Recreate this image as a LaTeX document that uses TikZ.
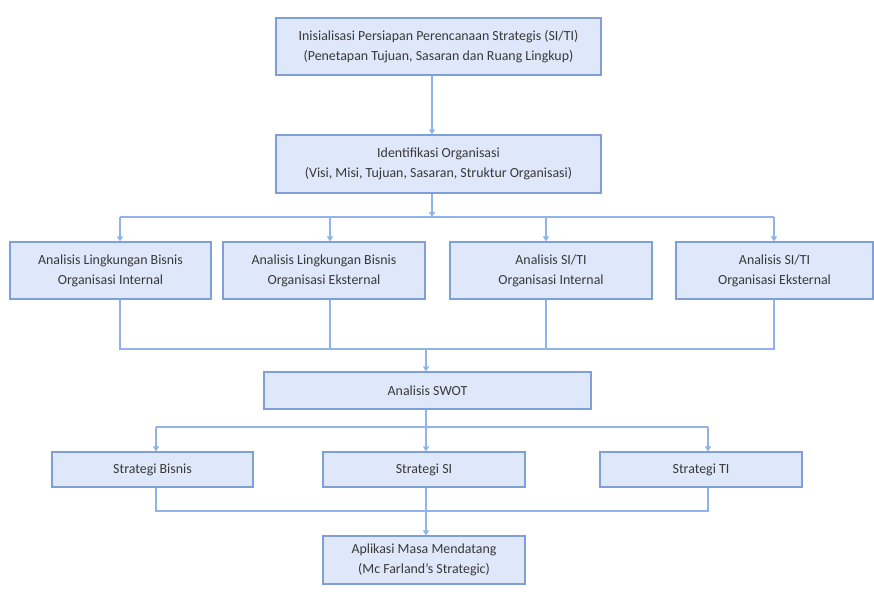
\documentclass[tikz,border=0pt]{standalone}
\usepackage{fontspec}
\setmainfont{Carlito}
\usetikzlibrary{arrows.meta}
\definecolor{boxfill}{HTML}{DFE7FA}
\definecolor{boxline}{HTML}{7F9FD8}
\definecolor{conn}{HTML}{8FB3EA}
\definecolor{txt}{HTML}{383838}
\begin{document}
\begin{tikzpicture}[x=1pt,y=-1pt,
 box/.style={draw=boxline, fill=boxfill, line width=1.2pt, text=txt, align=center, inner sep=0pt, font=\fontsize{13.9}{20}\selectfont},
 ln/.style={draw=conn, line width=1.3pt},
 arr/.style={ln, -{Triangle[width=6pt,length=5pt]}}]
\fill[white] (0,0) rectangle (874,591);
\useasboundingbox (0,0) rectangle (874,591);
\node[box, minimum width=325, minimum height=57] (top) at (438.5,46.5) {Inisialisasi Persiapan Perencanaan Strategis (SI/TI)\\(Penetapan Tujuan, Sasaran dan Ruang Lingkup)};
\node[box, minimum width=325, minimum height=58] (ident) at (438.5,164) {Identifikasi Organisasi\\(Visi, Misi, Tujuan, Sasaran, Struktur Organisasi)};
\node[box, minimum width=201, minimum height=57] (ia) at (110.5,270.5) {Analisis Lingkungan Bisnis\\Organisasi Internal};
\node[box, minimum width=202, minimum height=57] (ib) at (324,270.5) {Analisis Lingkungan Bisnis\\Organisasi Eksternal};
\node[box, minimum width=202, minimum height=57] (ic) at (551,270.5) {Analisis SI/TI\\Organisasi Internal};
\node[box, minimum width=197, minimum height=57] (id) at (774.5,270.5) {Analisis SI/TI\\Organisasi Eksternal};
\node[box, minimum width=327, minimum height=37] (swot) at (427.5,390.5) {Analisis SWOT};
\node[box, minimum width=201, minimum height=35] (sb) at (152.5,469.5) {Strategi Bisnis};
\node[box, minimum width=202, minimum height=35] (ssi) at (424,469.5) {Strategi SI};
\node[box, minimum width=202, minimum height=35] (sti) at (701,469.5) {Strategi TI};
\node[box, minimum width=202, minimum height=48] (apl) at (424,560) {Aplikasi Masa Mendatang\\(Mc Farland’s Strategic)};
% x positions
\coordinate (x0) at (432,0);
\coordinate (xa) at (120,0);
\coordinate (xb) at (330,0);
\coordinate (xc) at (546,0);
\coordinate (xd) at (774,0);
\coordinate (xs) at (426,0);
\coordinate (xsb) at (156,0);
\coordinate (xti) at (708,0);
\coordinate (bus1) at (0,217);
\coordinate (bus2) at (0,349);
\coordinate (bus3) at (0,427);
\coordinate (bus4) at (0,511);
% connectors
\draw[arr] (top.south -| x0) -- (ident.north -| x0);
\draw[arr] (ident.south -| x0) -- (bus1 -| x0);
\draw[ln] (bus1 -| xa) -- (bus1 -| xd);
\draw[arr] (bus1 -| xa) -- (ia.north -| xa);
\draw[arr] (bus1 -| xb) -- (ib.north -| xb);
\draw[arr] (bus1 -| xc) -- (ic.north -| xc);
\draw[arr] (bus1 -| xd) -- (id.north -| xd);
\draw[ln] (ia.south -| xa) -- (bus2 -| xa) -- (bus2 -| xd) -- (id.south -| xd);
\draw[ln] (ib.south -| xb) -- (bus2 -| xb);
\draw[ln] (ic.south -| xc) -- (bus2 -| xc);
\draw[arr] (bus2 -| xs) -- (swot.north -| xs);
\draw[ln] (swot.south -| xs) -- (bus3 -| xs);
\draw[ln] (bus3 -| xsb) -- (bus3 -| xti);
\draw[arr] (bus3 -| xsb) -- (sb.north -| xsb);
\draw[arr] (bus3 -| xs) -- (ssi.north -| xs);
\draw[arr] (bus3 -| xti) -- (sti.north -| xti);
\draw[ln] (sb.south -| xsb) -- (bus4 -| xsb) -- (bus4 -| xti) -- (sti.south -| xti);
\draw[ln] (ssi.south -| xs) -- (bus4 -| xs);
\draw[arr] (bus4 -| xs) -- (apl.north -| xs);
\end{tikzpicture}
\end{document}
